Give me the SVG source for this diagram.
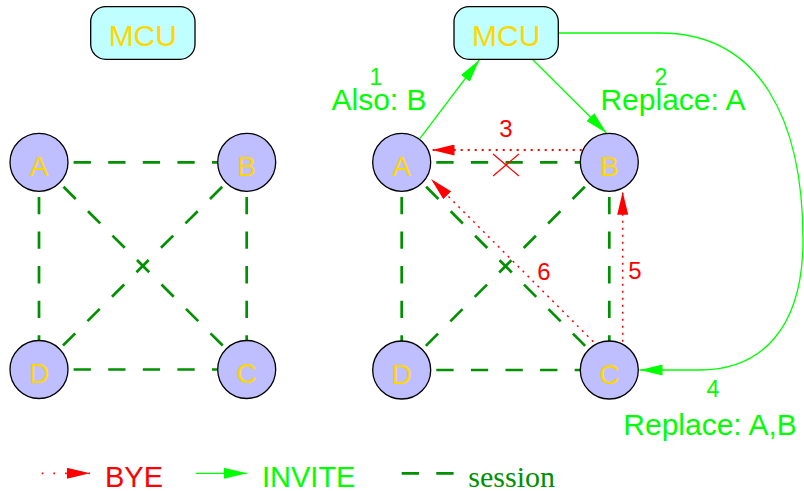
<svg xmlns="http://www.w3.org/2000/svg" width="804" height="491" viewBox="0 0 804 491">
<style>
.node{fill:#bfbfff;stroke:#000;stroke-width:1.3}
.mcu{fill:#bfffff;stroke:#000;stroke-width:1.3}
.lbl{font-family:"Liberation Sans",Arial,sans-serif;fill:#ffd700;text-anchor:middle}
.sess{stroke:#009000;stroke-width:2.7;stroke-dasharray:17.3 17.3;fill:none}
.inv{stroke:#00ff00;stroke-width:1.3;fill:none}
.bye{stroke:#ff0000;stroke-width:1.8;stroke-dasharray:2 5;fill:none}
.gt{font-family:"Liberation Sans",Arial,sans-serif;fill:#00ff00}
.rt{font-family:"Liberation Sans",Arial,sans-serif;fill:#ff0000}
</style>
<defs>
<marker id="ra" viewBox="0 0 23 11" refX="23" refY="5.5" markerWidth="23" markerHeight="11" markerUnits="userSpaceOnUse" orient="auto"><path d="M0,0 L23,5.5 L0,11 z" fill="#ff0000"/></marker>
<marker id="ga" viewBox="0 0 23 11" refX="23" refY="5.5" markerWidth="23" markerHeight="11" markerUnits="userSpaceOnUse" orient="auto"><path d="M0,0 L23,5.5 L0,11 z" fill="#00ff00"/></marker>
</defs>
<g id="connectors">
<g id="sessions-left">
<line class="sess" x1="39" y1="162.3" x2="246.7" y2="162.3"/>
<line class="sess" x1="39" y1="369.5" x2="246.7" y2="369.5"/>
<line class="sess" x1="39" y1="162.3" x2="39" y2="369.5"/>
<line class="sess" x1="246.7" y1="162.3" x2="246.7" y2="369.5"/>
<line class="sess" x1="39" y1="162.3" x2="246.7" y2="369.5"/>
<line class="sess" x1="246.7" y1="162.3" x2="39" y2="369.5"/>
</g>
<g id="sessions-right">
<line class="sess" x1="401.7" y1="162.3" x2="609.3" y2="162.3"/>
<line class="sess" x1="401.7" y1="370" x2="609.3" y2="370"/>
<line class="sess" x1="401.7" y1="162.3" x2="401.7" y2="370"/>
<line class="sess" x1="609.3" y1="162.3" x2="609.3" y2="370"/>
<line class="sess" x1="401.7" y1="162.3" x2="609.3" y2="370"/>
<line class="sess" x1="609.3" y1="162.3" x2="401.7" y2="370"/>
</g>
<path d="M493,154 L519,176 M519,154 L493,176" stroke="#ff0000" stroke-width="1.2" fill="none"/>
<line class="inv" x1="420" y1="138.3" x2="479.3" y2="60" marker-end="url(#ga)"/>
<line class="inv" x1="532.3" y1="59.3" x2="606.7" y2="133.3" marker-end="url(#ga)"/>
<path class="inv" d="M558.3,33 H660 C760,33 803,120 803,240 C803,330 760,370 700,370 H639.5" marker-end="url(#ga)"/>
<line class="bye" x1="581.7" y1="150" x2="431.5" y2="150" marker-end="url(#ra)"/>
<line class="bye" style="stroke-width:1.5" x1="622.7" y1="341.7" x2="622.7" y2="191.7" marker-end="url(#ra)"/>
<line class="bye" style="stroke-width:1.5" x1="593.3" y1="341.7" x2="431" y2="179" marker-end="url(#ra)"/>
</g>
<g id="mcu-left"><rect class="mcu" x="90.7" y="6.7" width="104.3" height="52.6" rx="15"/><text class="lbl" x="142.8" y="46" font-size="30">MCU</text></g>
<g id="mcu-right"><rect class="mcu" x="454" y="6.7" width="104.3" height="52.6" rx="15"/><text class="lbl" x="506.2" y="46" font-size="30">MCU</text></g>
<g id="node-A-left"><circle class="node" cx="39" cy="162.3" r="29"/><text class="lbl" x="39" y="175.8" font-size="28">A</text></g>
<g id="node-B-left"><circle class="node" cx="246.7" cy="162.3" r="29"/><text class="lbl" x="246.7" y="175.8" font-size="28">B</text></g>
<g id="node-D-left"><circle class="node" cx="39" cy="369.5" r="29"/><text class="lbl" x="39" y="383" font-size="28">D</text></g>
<g id="node-C-left"><circle class="node" cx="246.7" cy="369.5" r="29"/><text class="lbl" x="246.7" y="383" font-size="28">C</text></g>
<g id="node-A-right"><circle class="node" cx="401.7" cy="162.3" r="29"/><text class="lbl" x="401.7" y="175.8" font-size="28">A</text></g>
<g id="node-B-right"><circle class="node" cx="609.3" cy="162.3" r="29"/><text class="lbl" x="609.3" y="175.8" font-size="28">B</text></g>
<g id="node-D-right"><circle class="node" cx="401.7" cy="370" r="29"/><text class="lbl" x="401.7" y="383.5" font-size="28">D</text></g>
<g id="node-C-right"><circle class="node" cx="609.3" cy="370" r="29"/><text class="lbl" x="609.3" y="383.5" font-size="28">C</text></g>
<g id="labels">
<text class="gt" x="376" y="85" font-size="23" text-anchor="middle">1</text>
<text class="gt" x="379" y="110" font-size="30" text-anchor="middle">Also: B</text>
<text class="gt" x="661" y="85" font-size="23" text-anchor="middle">2</text>
<text class="gt" x="673" y="110" font-size="30" text-anchor="middle">Replace: A</text>
<text class="gt" x="713" y="396.7" font-size="23" text-anchor="middle">4</text>
<text class="gt" x="623.3" y="434.5" font-size="30">Replace: A,B</text>
<text class="rt" x="506" y="137.3" font-size="24" text-anchor="middle">3</text>
<text class="rt" x="635" y="279.3" font-size="24" text-anchor="middle">5</text>
<text class="rt" x="544" y="280" font-size="24" text-anchor="middle">6</text>
</g>
<g id="legend">
<line class="bye" style="stroke-dasharray:1.7 10" x1="41.7" y1="473.3" x2="90" y2="473.3" marker-end="url(#ra)"/>
<text class="rt" x="105" y="486.7" font-size="29">BYE</text>
<line class="inv" x1="196" y1="473.3" x2="247" y2="473.3" marker-end="url(#ga)"/>
<text class="gt" x="262" y="486.7" font-size="29">INVITE</text>
<line class="sess" x1="401.7" y1="473.3" x2="454" y2="473.3"/>
<text x="468.3" y="487.3" font-size="30" font-family="'Liberation Serif','Times New Roman',serif" fill="#009000">session</text>
</g>
</svg>
